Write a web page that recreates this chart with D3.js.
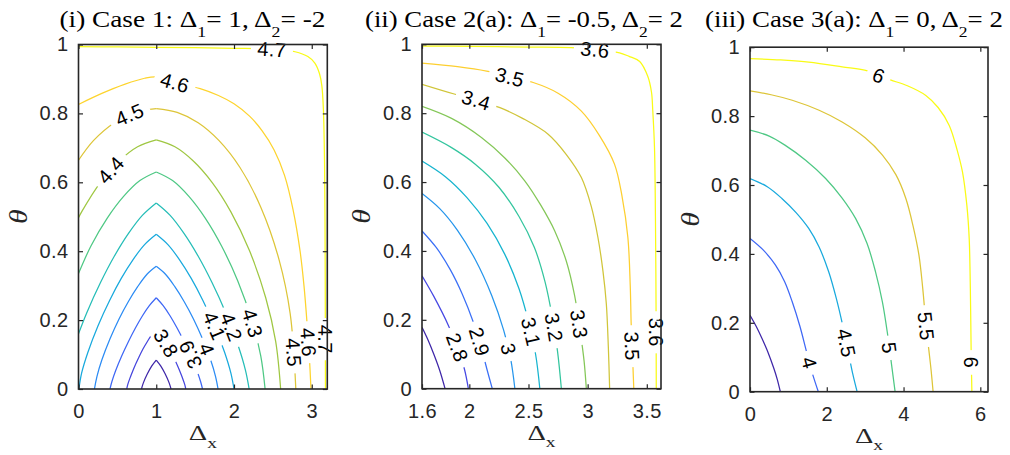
<!DOCTYPE html>
<html>
<head>
<meta charset="utf-8">
<script src="https://cdn.jsdelivr.net/npm/d3@7"></script>
<style>
  body { margin: 0; background: #fff; }
  svg text { font-family: "Liberation Sans", Arial, sans-serif; }
  svg text.serif { font-family: "Liberation Serif", "Times New Roman", serif; }
</style>
</head>
<body>
<svg id="chart"></svg>
<script>
// ---- data ----
var yTicks = [0, 0.2, 0.4, 0.6, 0.8, 1];

// (i) Case 1
var case1XTicks = [0, 1, 2, 3];
var case1Levels = [3.7, 3.8, 3.9, 4, 4.1, 4.2, 4.3, 4.4, 4.5, 4.6, 4.7];
var case1Lines = [
  {level: 3.7, segs: [
    [[1,0.084],[0.943,0.067],[0.886,0.044],[0.833,0.017],[0.81,0]],
    [[1,0.084],[1.057,0.067],[1.114,0.044],[1.167,0.017],[1.19,0]]]},
  {level: 3.8, segs: [
    [[1,0.173],[0.943,0.158],[0.886,0.138],[0.829,0.116],[0.772,0.09],[0.715,0.062],[0.666,0.034],[0.635,0.014],[0.62,0]],
    [[1,0.173],[1.057,0.158],[1.114,0.138],[1.171,0.116],[1.228,0.09],[1.285,0.062],[1.334,0.034],[1.365,0.014],[1.38,0]]]},
  {level: 3.9, segs: [
    [[1,0.265],[0.911,0.242],[0.821,0.212],[0.732,0.177],[0.643,0.138],[0.554,0.095],[0.476,0.052],[0.429,0.021],[0.405,0]],
    [[1,0.265],[1.089,0.242],[1.179,0.212],[1.268,0.177],[1.357,0.138],[1.446,0.095],[1.524,0.052],[1.571,0.021],[1.595,0]]]},
  {level: 4, segs: [
    [[1,0.356],[0.881,0.333],[0.761,0.297],[0.642,0.254],[0.523,0.204],[0.404,0.145],[0.3,0.084],[0.237,0.036],[0.205,0]],
    [[1,0.356],[1.119,0.333],[1.239,0.297],[1.358,0.254],[1.477,0.204],[1.596,0.145],[1.7,0.084],[1.763,0.036],[1.795,0]]]},
  {level: 4.1, segs: [
    [[1,0.449],[0.85,0.419],[0.7,0.375],[0.55,0.321],[0.4,0.257],[0.25,0.183],[0.12,0.106],[0.04,0.046],[0.005,0]],
    [[1,0.449],[1.15,0.419],[1.3,0.375],[1.45,0.321],[1.6,0.257],[1.75,0.183],[1.88,0.106],[1.96,0.046],[2.0,0]]]},
  {level: 4.2, segs: [
    [[1,0.54],[0.821,0.504],[0.641,0.451],[0.462,0.386],[0.283,0.309],[0.104,0.22],[0,0.16]],
    [[1,0.54],[1.179,0.504],[1.359,0.451],[1.538,0.386],[1.717,0.309],[1.896,0.22],[2.052,0.127],[2.147,0.055],[2.195,0]]]},
  {level: 4.3, segs: [
    [[1,0.63],[0.79,0.605],[0.58,0.559],[0.37,0.496],[0.16,0.415],[0,0.335]],
    [[1,0.63],[1.21,0.605],[1.42,0.559],[1.63,0.496],[1.84,0.415],[2.05,0.313],[2.232,0.197],[2.344,0.096],[2.4,0]]]},
  {level: 4.4, segs: [
    [[1,0.723],[0.76,0.703],[0.52,0.661],[0.28,0.599],[0.04,0.514],[0,0.497]],
    [[1,0.723],[1.24,0.703],[1.48,0.661],[1.72,0.599],[1.96,0.514],[2.2,0.401],[2.408,0.265],[2.536,0.138],[2.6,0]]]},
  {level: 4.5, segs: [
    [[1,0.814],[0.731,0.803],[0.462,0.773],[0.192,0.721],[0,0.664]],
    [[1,0.814],[1.269,0.803],[1.539,0.773],[1.808,0.721],[2.077,0.643],[2.346,0.527],[2.58,0.375],[2.723,0.218],[2.795,0]]]},
  {level: 4.6, segs: [
    [[0,0.826],[0.3,0.858],[0.6,0.885],[0.85,0.902],[1.0,0.906],[1.25,0.889],[1.565,0.872],[1.8,0.852],[2.0,0.828],[2.2,0.792],[2.36,0.75],[2.516,0.694],[2.65,0.62],[2.76,0.52],[2.85,0.4],[2.9,0.3],[2.94,0.19],[2.97,0.09],[2.99,0]]]},
  {level: 4.7, segs: [
    [[0,0.994],[0.5,0.993],[1,0.992],[1.5,0.991],[2,0.989],[2.49,0.986],[2.786,0.979],[2.95,0.965],[3.04,0.946],[3.1,0.915],[3.13,0.88],[3.15,0.81],[3.165,0.65],[3.172,0.4],[3.175,0.15],[3.176,0]]]}
];
var case1Labels = [
  {level: 4.7, x: 2.49, y: 0.986}, {level: 4.6, x: 1.24, y: 0.889},
  {level: 4.5, x: 0.67, y: 0.79}, {level: 4.4, x: 0.44, y: 0.63},
  {level: 3.8, x: 1.144, y: 0.135}, {level: 3.9, x: 1.35, y: 0.091, flip: true},
  {level: 4, x: 1.6, y: 0.111}, {level: 4.1, x: 1.69, y: 0.178},
  {level: 4.2, x: 1.94, y: 0.178}, {level: 4.3, x: 2.19, y: 0.188},
  {level: 4.5, x: 2.72, y: 0.106}, {level: 4.6, x: 2.95, y: 0.135},
  {level: 4.7, x: 3.17, y: 0.145}
];

// (ii) Case 2(a)
var case2XTicks = [1.6, 2, 2.5, 3, 3.5];
var case2Levels = [2.7, 2.8, 2.9, 3, 3.1, 3.2, 3.3, 3.4, 3.5, 3.6];
var case2Lines = [
  {level: 2.7, segs: [[[1.6,0.178],[1.65,0.142],[1.7,0.1],[1.75,0.053],[1.795,0]]]},
  {level: 2.8, segs: [[[1.6,0.328],[1.7,0.268],[1.824,0.183],[1.91,0.11],[1.96,0.055],[1.992,0]]]},
  {level: 2.9, segs: [[[1.6,0.458],[1.72,0.41],[1.84,0.345],[1.94,0.275],[2.034,0.193],[2.1,0.12],[2.15,0.055],[2.194,0]]]},
  {level: 3, segs: [[[1.6,0.567],[1.75,0.523],[1.9,0.46],[2.05,0.375],[2.19,0.27],[2.29,0.17],[2.35,0.085],[2.385,0]]]},
  {level: 3.1, segs: [[[1.6,0.661],[1.8,0.615],[1.98,0.555],[2.15,0.48],[2.3,0.39],[2.42,0.29],[2.5,0.195],[2.56,0.1],[2.596,0]]]},
  {level: 3.2, segs: [[[1.6,0.745],[1.85,0.7],[2.05,0.652],[2.25,0.585],[2.42,0.5],[2.55,0.41],[2.64,0.31],[2.7,0.21],[2.745,0.11],[2.778,0]]]},
  {level: 3.3, segs: [[[1.6,0.82],[1.85,0.785],[2.105,0.729],[2.3,0.67],[2.47,0.603],[2.6,0.535],[2.722,0.458],[2.82,0.37],[2.89,0.27],[2.94,0.16],[2.97,0.08],[2.989,0]]]},
  {level: 3.4, segs: [[[1.6,0.884],[1.88,0.855],[2.063,0.838],[2.259,0.816],[2.45,0.785],[2.666,0.739],[2.82,0.68],[2.947,0.613],[3.03,0.53],[3.087,0.439],[3.13,0.34],[3.158,0.246],[3.175,0.12],[3.186,0]]]},
  {level: 3.5, segs: [[[1.6,0.945],[1.9,0.935],[2.146,0.922],[2.343,0.905],[2.54,0.889],[2.75,0.858],[2.947,0.806],[3.1,0.735],[3.227,0.652],[3.29,0.56],[3.34,0.439],[3.36,0.3],[3.368,0.188],[3.38,0.09],[3.39,0]]]},
  {level: 3.6, segs: [[[1.6,0.995],[2.0,0.994],[2.5,0.992],[2.862,0.99],[3.06,0.985],[3.27,0.975],[3.35,0.965],[3.44,0.95],[3.508,0.907],[3.54,0.86],[3.55,0.81],[3.565,0.7],[3.573,0.5],[3.578,0.25],[3.58,0]]]}
];
var case2Labels = [
  {level: 3.6, x: 3.06, y: 0.985}, {level: 3.5, x: 2.343, y: 0.905},
  {level: 3.4, x: 2.062, y: 0.84},
  {level: 2.8, x: 1.852, y: 0.114}, {level: 2.9, x: 2.062, y: 0.134},
  {level: 3, x: 2.315, y: 0.114}, {level: 3.1, x: 2.484, y: 0.163},
  {level: 3.2, x: 2.694, y: 0.177}, {level: 3.3, x: 2.905, y: 0.187},
  {level: 3.5, x: 3.368, y: 0.124}, {level: 3.6, x: 3.57, y: 0.163}
];

// (iii) Case 3(a)
var case3XTicks = [0, 2, 4, 6];
var case3Levels = [3.5, 4, 4.5, 5, 5.5, 6];
var case3Lines = [
  {level: 3.5, segs: [[[0,0.222],[0.16,0.19],[0.31,0.155],[0.47,0.114],[0.62,0.068],[0.71,0.036],[0.79,0]]]},
  {level: 4, segs: [[[0,0.445],[0.33,0.413],[0.66,0.368],[0.9,0.32],[1.1,0.261],[1.3,0.19],[1.45,0.126],[1.58,0.07],[1.69,0.03],[1.78,0]]]},
  {level: 4.5, segs: [[[0,0.619],[0.45,0.595],[0.83,0.561],[1.2,0.52],[1.53,0.474],[1.8,0.42],[2.05,0.348],[2.25,0.27],[2.42,0.19],[2.56,0.115],[2.68,0.05],[2.79,0]]]},
  {level: 5, segs: [[[0,0.759],[0.5,0.742],[0.92,0.715],[1.45,0.672],[1.97,0.619],[2.4,0.562],[2.75,0.503],[3.05,0.43],[3.27,0.348],[3.45,0.26],[3.58,0.17],[3.68,0.085],[3.78,0]]]},
  {level: 5.5, segs: [[[0,0.873],[0.55,0.862],[1.1,0.846],[1.8,0.817],[2.4,0.783],[3.0,0.737],[3.45,0.687],[3.8,0.63],[4.06,0.561],[4.25,0.48],[4.4,0.397],[4.5,0.3],[4.58,0.2],[4.66,0.12],[4.72,0.06],[4.77,0]]]},
  {level: 6, segs: [[[0,0.967],[0.8,0.963],[1.53,0.957],[2.4,0.943],[3.06,0.931],[3.36,0.918],[3.66,0.905],[4.1,0.888],[4.58,0.86],[4.9,0.825],[5.19,0.773],[5.4,0.7],[5.535,0.638],[5.65,0.54],[5.71,0.445],[5.74,0.3],[5.76,0.126],[5.78,0]]]}
];
var case3Labels = [
  {level: 6, x: 3.36, y: 0.918}, {level: 4, x: 1.53, y: 0.083},
  {level: 4.5, x: 2.45, y: 0.14}, {level: 5, x: 3.56, y: 0.126},
  {level: 5.5, x: 4.53, y: 0.189}, {level: 6, x: 5.75, y: 0.085}
];

var titles = [
  [{t: "(i) Case 1: \u0394"}, {t: "1", sub: true}, {t: "= 1, \u0394"}, {t: "2", sub: true}, {t: "= -2"}],
  [{t: "(ii) Case 2(a): \u0394"}, {t: "1", sub: true}, {t: "= -0.5, \u0394"}, {t: "2", sub: true}, {t: "= 2"}],
  [{t: "(iii) Case 3(a): \u0394"}, {t: "1", sub: true}, {t: "= 0, \u0394"}, {t: "2", sub: true}, {t: "= 2"}]
];

// ---- layout ----
var W = 1010, H = 455;
var panels = [
  {xdom: [0, 3.2], xticks: case1XTicks, levels: case1Levels, lines: case1Lines, labels: case1Labels,
   left: 78.5, right: 327.3, top: 44.5, bottom: 389, titleX: 59.5, titleW: 266, thetaX: 19},
  {xdom: [1.6, 3.62], xticks: case2XTicks, levels: case2Levels, lines: case2Lines, labels: case2Labels,
   left: 422, right: 661, top: 44.3, bottom: 388.7, titleX: 365, titleW: 318, thetaX: 362},
  {xdom: [0, 6.2], xticks: case3XTicks, levels: case3Levels, lines: case3Lines, labels: case3Labels,
   left: 750, right: 988, top: 47.2, bottom: 391.7, titleX: 705, titleW: 298, thetaX: 691}
];

var parula = d3.scaleLinear()
  .domain(d3.range(8).map(function(i) { return i / 7; }))
  .range(["#3e26a8", "#4852f4", "#2e87f7", "#12b1d6", "#37c897", "#abc739", "#fec338", "#f9fb15"])
  .interpolate(d3.interpolateRgb);

var axisColor = "#262626";
var fmt = d3.format("~g");
var numSize = 20;

var svg = d3.select("#chart").attr("width", W).attr("height", H);
svg.append("rect").attr("width", W).attr("height", H).attr("fill", "#fff");
var defs = svg.append("defs");

function richText(sel, parts, size, subSize, subDy) {
  var cur = 0;
  parts.forEach(function(pt) {
    var want = pt.sub ? subDy : 0;
    sel.append("tspan")
      .attr("font-size", pt.sub ? subSize : size)
      .attr("dy", want - cur)
      .text(pt.t);
    cur = want;
  });
}

panels.forEach(function(p, pi) {
  var x = d3.scaleLinear().domain(p.xdom).range([p.left, p.right]);
  var y = d3.scaleLinear().domain([0, 1]).range([p.bottom, p.top]);
  var cval = d3.scaleLinear().domain(d3.extent(p.levels)).range([0, 1]);
  var line = d3.line()
    .x(function(d) { return x(d[0]); })
    .y(function(d) { return y(d[1]); })
    .curve(d3.curveCatmullRom.alpha(0.5));

  defs.append("clipPath").attr("id", "clip" + pi)
    .append("rect")
    .attr("x", p.left).attr("y", p.top)
    .attr("width", p.right - p.left).attr("height", p.bottom - p.top);

  var plot = svg.append("g").attr("clip-path", "url(#clip" + pi + ")");
  var groups = {};

  p.lines.forEach(function(c, ci) {
    var mid = "mask" + pi + "_" + ci;
    var mask = defs.append("mask").attr("id", mid)
      .attr("maskUnits", "userSpaceOnUse")
      .attr("x", 0).attr("y", 0).attr("width", W).attr("height", H);
    mask.append("rect").attr("width", W).attr("height", H).attr("fill", "white");

    var g = plot.append("g").attr("mask", "url(#" + mid + ")");
    c.segs.forEach(function(s) {
      g.append("path")
        .attr("d", line(s))
        .attr("fill", "none")
        .attr("stroke", parula(cval(c.level)))
        .attr("stroke-width", 1.25);
    });
    groups[String(c.level)] = {g: g, mask: mask};
  });

  // inline contour labels, cut into their own line
  var labelLayer = svg.append("g");
  p.labels.forEach(function(lb) {
    var grp = groups[String(lb.level)];
    var tx = x(lb.x), ty = y(lb.y);
    var best = null;
    grp.g.selectAll("path").each(function() {
      var L = this.getTotalLength();
      for (var s = 0; s <= L; s += 0.5) {
        var pt = this.getPointAtLength(s);
        var d = (pt.x - tx) * (pt.x - tx) + (pt.y - ty) * (pt.y - ty);
        if (!best || d < best.d) best = {d: d, s: s, node: this, pt: pt, L: L};
      }
    });
    var a0 = best.node.getPointAtLength(Math.max(0, best.s - 3)),
        a1 = best.node.getPointAtLength(Math.min(best.L, best.s + 3));
    var ang = Math.atan2(a1.y - a0.y, a1.x - a0.x) * 180 / Math.PI;
    if (ang > 90) ang -= 180;
    if (ang <= -90) ang += 180;
    if (lb.flip) ang += 180;
    var tr = "translate(" + best.pt.x + "," + best.pt.y + ") rotate(" + ang + ")";
    var t = labelLayer.append("text")
      .attr("transform", tr)
      .attr("text-anchor", "middle")
      .attr("dy", "0.36em")
      .attr("font-size", numSize)
      .attr("letter-spacing", 0.4)
      .attr("fill", "#000")
      .text(fmt(lb.level));
    var w = t.node().getComputedTextLength() + 13;
    grp.mask.append("rect")
      .attr("x", -w / 2).attr("y", -10)
      .attr("width", w).attr("height", 20)
      .attr("transform", tr)
      .attr("fill", "black");
  });

  // axes
  var ax = svg.append("g");
  function styleAxis(g) {
    g.attr("font-size", null).attr("font-family", null);
    g.select(".domain").remove();
    g.selectAll(".tick line").attr("stroke", axisColor).attr("stroke-width", 1.2);
    g.selectAll(".tick text").attr("fill", axisColor).attr("font-size", numSize).attr("letter-spacing", 0.4);
  }
  ax.append("g").attr("transform", "translate(0," + p.bottom + ")")
    .call(d3.axisBottom(x).tickValues(p.xticks).tickFormat(fmt).tickSize(-4.5).tickSizeOuter(0).tickPadding(15))
    .call(styleAxis);
  ax.append("g").attr("transform", "translate(0," + p.top + ")")
    .call(d3.axisTop(x).tickValues(p.xticks).tickFormat("").tickSize(-4.5).tickSizeOuter(0))
    .call(styleAxis);
  ax.append("g").attr("transform", "translate(" + p.left + ",0)")
    .call(d3.axisLeft(y).tickValues(yTicks).tickFormat(fmt).tickSize(-4.5).tickSizeOuter(0).tickPadding(10))
    .call(styleAxis);
  ax.append("g").attr("transform", "translate(" + p.right + ",0)")
    .call(d3.axisRight(y).tickValues(yTicks).tickFormat("").tickSize(-4.5).tickSizeOuter(0))
    .call(styleAxis);

  ax.append("rect")
    .attr("x", p.left).attr("y", p.top)
    .attr("width", p.right - p.left).attr("height", p.bottom - p.top)
    .attr("fill", "none").attr("stroke", axisColor).attr("stroke-width", 1.6);

  // title, stretched to the footprint it has in the figure
  var title = svg.append("text").attr("class", "serif").attr("fill", "#000");
  richText(title, titles[pi], 23, 15, 10);
  var bw = title.node().getBBox().width;
  title.attr("transform", "translate(" + p.titleX + ",27) scale(" + (p.titleW / bw) + ",1)");

  // x label
  var xl = svg.append("text").attr("class", "serif")
    .attr("text-anchor", "middle").attr("fill", axisColor)
    .attr("transform", "translate(" + ((p.left + p.right) / 2) + "," + (p.bottom + 51) + ") scale(1.3,1)");
  richText(xl, [{t: "\u0394"}, {t: "x", sub: true}], 22, 15, 7.5);

  // y label
  svg.append("text").attr("class", "serif")
    .attr("transform", "translate(" + (p.thetaX + 8) + "," + ((p.top + p.bottom) / 2) + ") rotate(-90) scale(1.2,1)")
    .attr("text-anchor", "middle")
    .attr("font-style", "italic")
    .attr("font-size", 25)
    .attr("fill", axisColor)
    .text("\u03b8");
});
</script>
</body>
</html>
